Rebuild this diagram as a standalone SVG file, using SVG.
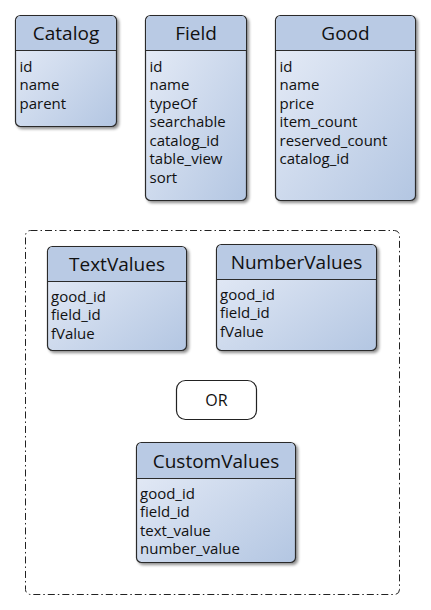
<svg xmlns="http://www.w3.org/2000/svg" width="431" height="610" viewBox="0 0 431 610">
<defs>
<linearGradient id="body" x1="0" y1="0" x2="1" y2="1">
<stop offset="0" stop-color="#e9eef8"/>
<stop offset="1" stop-color="#b3c6e2"/>
</linearGradient>
<filter id="sh" x="-10%" y="-10%" width="130%" height="130%">
<feGaussianBlur in="SourceAlpha" stdDeviation="1.5"/>
<feOffset dx="2" dy="2" result="b"/>
<feComponentTransfer><feFuncA type="linear" slope="0.45"/></feComponentTransfer>
<feMerge><feMergeNode/><feMergeNode in="SourceGraphic"/></feMerge>
</filter>
</defs>
<style>
.box{fill:url(#body);stroke:#2b2b2b;stroke-width:1.2;filter:url(#sh)}
.hdr{fill:#b9cae4}
.sep{stroke:#2b2b2b;stroke-width:1.2}
.t{font-family:"Open Sans","Noto Sans",sans-serif;font-size:19px;fill:#111;text-anchor:middle}
.f{font-family:"Open Sans","Noto Sans",sans-serif;font-size:15px;fill:#111}
.grp{fill:none;stroke:#222;stroke-width:1;stroke-dasharray:7,3,1.5,3}
.or{fill:#fff;stroke:#222;stroke-width:1.2}
</style>
<rect class="grp" x="25.5" y="230.5" width="374" height="364" rx="5"/>
<g id="Catalog">
<rect class="box" x="15.5" y="15.5" width="101" height="111" rx="5"/>
<path class="hdr" d="M16.1,50.5 V20.5 a4.4,4.4 0 0 1 4.4,-4.4 H111.5 a4.4,4.4 0 0 1 4.4,4.4 V50.5 Z"/>
<line class="sep" x1="15.5" y1="50.5" x2="116.5" y2="50.5"/>
<text class="t" x="66" y="40">Catalog</text>
<text class="f" x="19.5" y="71.5">id</text>
<text class="f" x="19.5" y="90">name</text>
<text class="f" x="19.5" y="108.5">parent</text>
</g>
<g id="Field">
<rect class="box" x="145.5" y="15.5" width="101" height="185" rx="5"/>
<path class="hdr" d="M146.1,50.5 V20.5 a4.4,4.4 0 0 1 4.4,-4.4 H241.5 a4.4,4.4 0 0 1 4.4,4.4 V50.5 Z"/>
<line class="sep" x1="145.5" y1="50.5" x2="246.5" y2="50.5"/>
<text class="t" x="196" y="40">Field</text>
<text class="f" x="149.5" y="71.5">id</text>
<text class="f" x="149.5" y="90">name</text>
<text class="f" x="149.5" y="108.5">typeOf</text>
<text class="f" x="149.5" y="127">searchable</text>
<text class="f" x="149.5" y="145.5">catalog_id</text>
<text class="f" x="149.5" y="164">table_view</text>
<text class="f" x="149.5" y="182.5">sort</text>
</g>
<g id="Good">
<rect class="box" x="275.5" y="15.5" width="140" height="185" rx="5"/>
<path class="hdr" d="M276.1,50.5 V20.5 a4.4,4.4 0 0 1 4.4,-4.4 H410.5 a4.4,4.4 0 0 1 4.4,4.4 V50.5 Z"/>
<line class="sep" x1="275.5" y1="50.5" x2="415.5" y2="50.5"/>
<text class="t" x="345.5" y="40">Good</text>
<text class="f" x="279.5" y="71.5">id</text>
<text class="f" x="279.5" y="90">name</text>
<text class="f" x="279.5" y="108.5">price</text>
<text class="f" x="279.5" y="127">item_count</text>
<text class="f" x="279.5" y="145.5">reserved_count</text>
<text class="f" x="279.5" y="164">catalog_id</text>
</g>
<g id="TextValues">
<rect class="box" x="47.5" y="246.5" width="139" height="104" rx="5"/>
<path class="hdr" d="M48.1,281 V251.5 a4.4,4.4 0 0 1 4.4,-4.4 H181.5 a4.4,4.4 0 0 1 4.4,4.4 V281 Z"/>
<line class="sep" x1="47.5" y1="281.5" x2="186.5" y2="281.5"/>
<text class="t" x="117" y="271">TextValues</text>
<text class="f" x="51" y="301.5">good_id</text>
<text class="f" x="51" y="320">field_id</text>
<text class="f" x="51" y="338.5">fValue</text>
</g>
<g id="NumberValues">
<rect class="box" x="216.5" y="244.5" width="160" height="106" rx="5"/>
<path class="hdr" d="M217.1,279 V249.5 a4.4,4.4 0 0 1 4.4,-4.4 H371.5 a4.4,4.4 0 0 1 4.4,4.4 V279 Z"/>
<line class="sep" x1="216.5" y1="279.5" x2="376.5" y2="279.5"/>
<text class="t" x="296.5" y="269">NumberValues</text>
<text class="f" x="220" y="299.5">good_id</text>
<text class="f" x="220" y="318">field_id</text>
<text class="f" x="220" y="336.5">fValue</text>
</g>
<g id="OR">
<rect class="or" x="176.5" y="380.5" width="80" height="39" rx="9"/>
<text class="t" x="216.5" y="406" style="font-size:16px">OR</text>
</g>
<g id="CustomValues">
<rect class="box" x="136.5" y="442.5" width="159" height="120" rx="5"/>
<path class="hdr" d="M137.1,478 V447.5 a4.4,4.4 0 0 1 4.4,-4.4 H290.5 a4.4,4.4 0 0 1 4.4,4.4 V478 Z"/>
<line class="sep" x1="136.5" y1="478.5" x2="295.5" y2="478.5"/>
<text class="t" x="216" y="467.5">CustomValues</text>
<text class="f" x="140" y="498.5">good_id</text>
<text class="f" x="140" y="517">field_id</text>
<text class="f" x="140" y="535.5">text_value</text>
<text class="f" x="140" y="554">number_value</text>
</g>
<g id="connectors"></g>
</svg>
